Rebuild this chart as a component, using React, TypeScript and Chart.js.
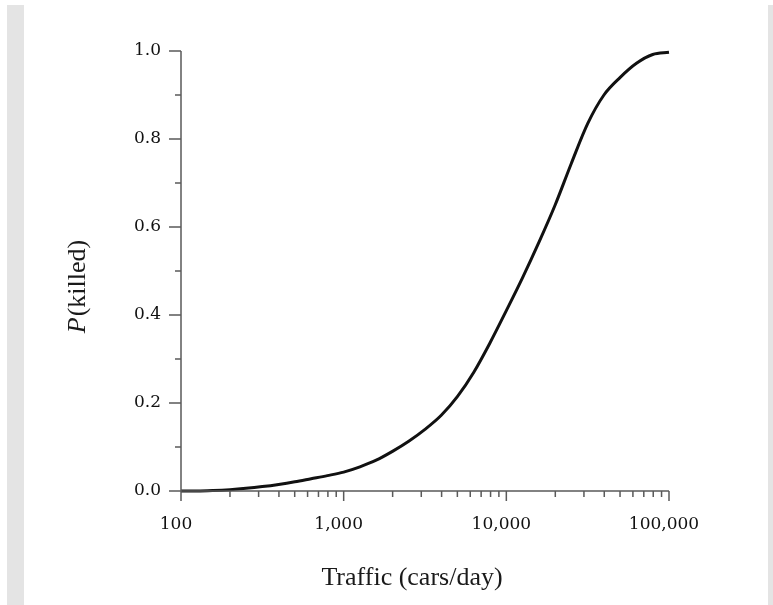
import React, { useEffect, useRef } from "react";
import { Chart, registerables } from "chart.js";

Chart.register(...registerables);

// Data
const traffic = [100, 126, 158, 200, 251, 316, 398, 501, 631, 794, 1000, 1259, 1585, 1995, 2512, 3162, 3981, 5012, 6310, 7943, 10000, 12589, 15849, 19953, 25119, 31623, 39811, 50119, 63096, 79433, 100000];
const pKilled = [0.0, 0.0, 0.001, 0.003, 0.006, 0.010, 0.015, 0.021, 0.028, 0.035, 0.043, 0.055, 0.070, 0.090, 0.113, 0.140, 0.172, 0.215, 0.270, 0.337, 0.410, 0.485, 0.565, 0.650, 0.745, 0.835, 0.900, 0.940, 0.972, 0.992, 0.997];

const xMajorTicks = [100, 1000, 10000, 100000];
const yMajorTicks = [0, 0.2, 0.4, 0.6, 0.8, 1.0];
const yMinorTicks = [0.1, 0.3, 0.5, 0.7, 0.9];
const xMinorTicks: number[] = [];
for (const decade of [100, 1000, 10000]) {
  for (let m = 2; m <= 9; m++) xMinorTicks.push(m * decade);
}

const xTitle = "Traffic (cars/day)";
const yTitleItalic = "P";
const yTitleRest = "(killed)";

const AXIS_COLOR = "#5a5a5a";

const axesPlugin = {
  id: "customAxes",
  afterDraw(chart: any) {
    const ctx = chart.ctx;
    const xs = chart.scales.x;
    const ys = chart.scales.y;
    const x0 = xs.getPixelForValue(100);
    const x1 = xs.getPixelForValue(100000);
    const y0 = ys.getPixelForValue(0);
    const y1 = ys.getPixelForValue(1);
    ctx.save();
    ctx.strokeStyle = AXIS_COLOR;
    ctx.lineWidth = 1.5;
    ctx.beginPath();
    ctx.moveTo(x0, y0);
    ctx.lineTo(x0, y1);
    ctx.moveTo(x0, y0);
    ctx.lineTo(x1, y0);
    for (const v of yMajorTicks) {
      const py = ys.getPixelForValue(v);
      ctx.moveTo(x0, py);
      ctx.lineTo(x0 - 12, py);
    }
    for (const v of yMinorTicks) {
      const py = ys.getPixelForValue(v);
      ctx.moveTo(x0, py);
      ctx.lineTo(x0 - 6, py);
    }
    for (const v of xMajorTicks) {
      const px = xs.getPixelForValue(v);
      ctx.moveTo(px, y0);
      ctx.lineTo(px, y0 + 10);
    }
    for (const v of xMinorTicks) {
      const px = xs.getPixelForValue(v);
      ctx.moveTo(px, y0);
      ctx.lineTo(px, y0 + 6);
    }
    ctx.stroke();

    ctx.fillStyle = "#1a1a1a";
    ctx.font = "26px 'Liberation Serif'";
    ctx.textAlign = "center";
    ctx.textBaseline = "alphabetic";
    ctx.fillText(xTitle, 412, 585);

    ctx.translate(85, 287);
    ctx.rotate(-Math.PI / 2);
    ctx.textAlign = "left";
    ctx.font = "italic 26px 'Liberation Serif'";
    const wP = ctx.measureText(yTitleItalic).width;
    ctx.font = "26px 'Liberation Serif'";
    const wR = ctx.measureText(yTitleRest).width;
    const start = -(wP + wR) / 2;
    ctx.font = "italic 26px 'Liberation Serif'";
    ctx.fillText(yTitleItalic, start, 0);
    ctx.font = "26px 'Liberation Serif'";
    ctx.fillText(yTitleRest, start + wP + 1, 0);
    ctx.restore();
  },
};

export default function App() {
  const canvasRef = useRef<HTMLCanvasElement | null>(null);

  useEffect(() => {
    if (!canvasRef.current) return;
    const chart = new Chart(canvasRef.current, {
      type: "line",
      data: {
        datasets: [
          {
            data: traffic.map((t, i) => ({ x: t, y: pKilled[i] })),
            borderColor: "#111",
            borderWidth: 3,
            pointRadius: 0,
            fill: false,
            cubicInterpolationMode: "monotone",
            clip: false as any,
          },
        ],
      },
      options: {
        animation: false,
        responsive: false,
        devicePixelRatio: 1,
        layout: { padding: { top: 51, right: 104, left: 0, bottom: 0 } },
        plugins: {
          legend: { display: false },
          tooltip: { enabled: false },
        },
        scales: {
          x: {
            type: "logarithmic",
            min: 100,
            max: 100000,
            grid: { display: false, drawTicks: false },
            border: { display: false },
            afterBuildTicks: (scale: any) => {
              scale.ticks = xMajorTicks.map((v) => ({ value: v }));
            },
            afterFit: (scale: any) => {
              scale.height = 114;
            },
            ticks: {
              autoSkip: false,
              maxRotation: 0,
              padding: 23,
              labelOffset: -5,
              color: "#111",
              font: { family: "'DejaVu Serif'", size: 17 },
              callback: (v: any) => Number(v).toLocaleString("en-US"),
            },
          },
          y: {
            type: "linear",
            min: 0,
            max: 1,
            grid: { display: false, drawTicks: false },
            border: { display: false },
            afterBuildTicks: (scale: any) => {
              scale.ticks = yMajorTicks.map((v) => ({ value: v }));
            },
            afterFit: (scale: any) => {
              scale.width = 181;
            },
            ticks: {
              padding: 20,
              color: "#111",
              font: { family: "'DejaVu Serif'", size: 17 },
              callback: (v: any) => Number(v).toFixed(1),
            },
          },
        },
      },
      plugins: [axesPlugin],
    });
    return () => chart.destroy();
  }, []);

  return (
    <div style={{ position: "absolute", left: 0, top: 0, width: 773, height: 605, background: "#fff" }}>
      <div style={{ position: "absolute", left: 7, top: 5, width: 17, height: 600, background: "#e4e4e4" }} />
      <div style={{ position: "absolute", left: 768, top: 5, width: 5, height: 600, background: "#e4e4e4" }} />
      <canvas
        ref={canvasRef}
        width={773}
        height={605}
        style={{ position: "absolute", left: 0, top: 0, width: 773, height: 605 }}
      />
    </div>
  );
}
